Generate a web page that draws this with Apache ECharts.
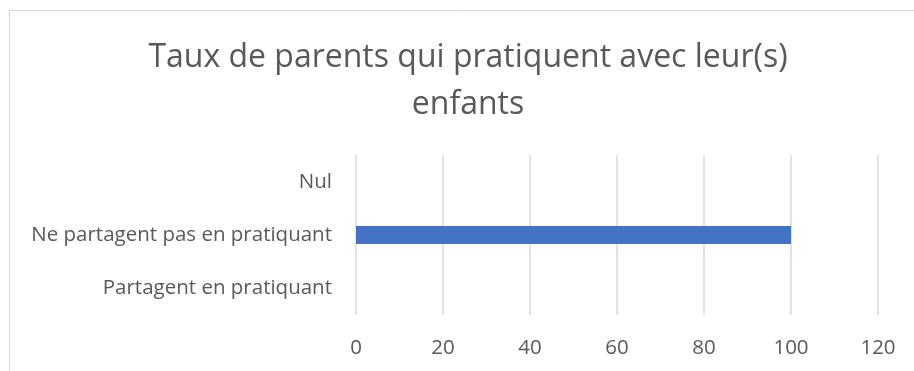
<!DOCTYPE html>
<html>
<head>
<meta charset="utf-8">
<script src="https://cdn.jsdelivr.net/npm/echarts@6/dist/echarts.min.js"></script>
<style>
  html, body { margin: 0; padding: 0; background: #ffffff; }
  #chart { width: 914px; height: 371px; }
</style>
</head>
<body>
<div id="chart"></div>
<script>
// Categories listed bottom to top, as the y axis draws them
const categories = ['Partagent en pratiquant', 'Ne partagent pas en pratiquant', 'Nul'];
const values = [0, 100, 0];
const xTicks = { min: 0, max: 120, interval: 20 };
const titleLines = ['Taux de parents qui pratiquent avec leur(s)', 'enfants'];

const chart = echarts.init(document.getElementById('chart'), null, { renderer: 'canvas' });
const textColor = '#595959';
const fontFamily = '"Open Sans", Calibri, sans-serif';

const titleStyle = {
  color: textColor,
  fontFamily: fontFamily,
  fontSize: 32,
  fontWeight: 'normal'
};

chart.setOption({
  animation: false,
  backgroundColor: '#ffffff',
  // each title line is centred on the chart frame's middle
  title: titleLines.map((line, i) => ({
    text: line,
    left: 468,
    textAlign: 'center',
    top: 42 + i * 47,
    padding: 0,
    textStyle: titleStyle
  })),
  graphic: [{
    type: 'rect',
    shape: { x: 9.5, y: 10.5, width: 1000, height: 500 },
    style: { fill: 'none', stroke: '#d9d9d9', lineWidth: 1 },
    silent: true
  }],
  grid: { left: 356, right: 36, top: 155, bottom: 56, containLabel: false },
  xAxis: {
    type: 'value',
    min: xTicks.min,
    max: xTicks.max,
    interval: xTicks.interval,
    axisLine: { show: false },
    axisTick: { show: false },
    splitLine: { show: true, lineStyle: { color: '#d9d9d9', width: 1.5 } },
    axisLabel: {
      color: textColor,
      fontFamily: fontFamily,
      fontSize: 20.5,
      margin: 23
    }
  },
  yAxis: {
    type: 'category',
    data: categories,
    axisLine: { show: false },
    axisTick: { show: false },
    axisLabel: {
      color: textColor,
      fontFamily: fontFamily,
      fontSize: 20.5,
      margin: 24
    }
  },
  series: [{
    type: 'bar',
    data: values,
    barWidth: '34%',
    itemStyle: { color: '#4472c4' }
  }]
});
</script>
</body>
</html>
